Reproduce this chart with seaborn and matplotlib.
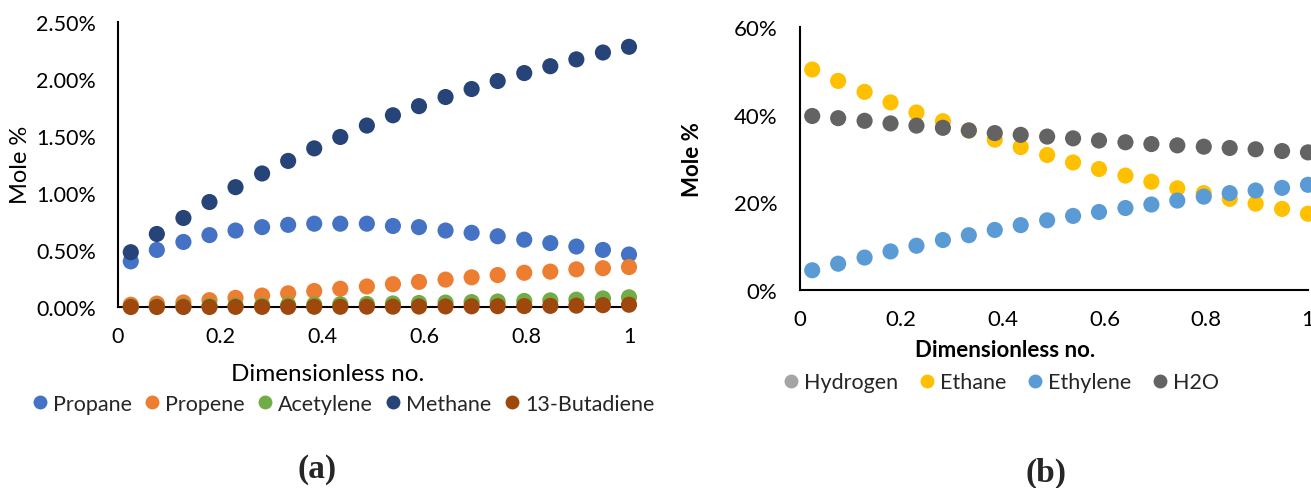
import numpy as np
import pandas as pd
import matplotlib
matplotlib.use("Agg")
import matplotlib.pyplot as plt
from matplotlib.lines import Line2D
from matplotlib.ticker import FuncFormatter
import seaborn as sns

# ---------------- data ----------------
x_vals = [0.025, 0.076, 0.128, 0.179, 0.230, 0.282, 0.333, 0.384, 0.435, 0.487,
          0.538, 0.589, 0.641, 0.692, 0.743, 0.795, 0.846, 0.897, 0.949, 1.0]

# (a) mole %
propane = [0.40, 0.50, 0.57, 0.63, 0.67, 0.70, 0.72, 0.73, 0.73, 0.73,
           0.71, 0.70, 0.67, 0.65, 0.62, 0.59, 0.56, 0.53, 0.50, 0.46]
propene = [0.02, 0.03, 0.04, 0.06, 0.08, 0.10, 0.12, 0.14, 0.16, 0.18,
           0.20, 0.22, 0.24, 0.26, 0.28, 0.30, 0.31, 0.33, 0.34, 0.35]
acetylene = [0.003, 0.005, 0.007, 0.010, 0.012, 0.015, 0.018, 0.021, 0.024, 0.027,
             0.031, 0.035, 0.039, 0.043, 0.048, 0.053, 0.058, 0.064, 0.075, 0.085]
methane = [0.48, 0.64, 0.78, 0.92, 1.05, 1.17, 1.28, 1.39, 1.49, 1.59,
           1.68, 1.76, 1.84, 1.91, 1.98, 2.05, 2.11, 2.17, 2.23, 2.28]
butadiene = [0.000, 0.000, 0.000, 0.000, 0.001, 0.001, 0.001, 0.002, 0.002, 0.003,
             0.003, 0.004, 0.005, 0.006, 0.007, 0.008, 0.010, 0.012, 0.016, 0.020]

# (b) mole %
hydrogen = []  # not visible within the plotted range
ethane = [50.3, 47.7, 45.2, 42.8, 40.5, 38.5, 36.4, 34.3, 32.6, 30.8,
          29.1, 27.6, 26.1, 24.7, 23.2, 22.1, 20.8, 19.7, 18.5, 17.4]
ethylene = [4.5, 6.0, 7.4, 8.8, 10.1, 11.4, 12.5, 13.7, 14.8, 15.9,
            16.9, 17.8, 18.7, 19.5, 20.4, 21.3, 22.1, 22.7, 23.3, 24.0]
h2o = [39.7, 39.2, 38.6, 38.0, 37.5, 37.0, 36.4, 35.8, 35.4, 35.0,
       34.6, 34.1, 33.7, 33.3, 33.0, 32.7, 32.4, 32.1, 31.7, 31.4]

names_a = ["Propane", "Propene", "Acetylene", "Methane", "13-Butadiene"]
series_a = [propane, propene, acetylene, methane, butadiene]
colors_a = ["#4472C4", "#ED7D31", "#70AD47", "#264478", "#9E480E"]

names_b = ["Hydrogen", "Ethane", "Ethylene", "H2O"]
series_b = [hydrogen, ethane, ethylene, h2o]
colors_b = ["#A5A5A5", "#FFC000", "#5B9BD5", "#636363"]

x_ticks = [0, 0.2, 0.4, 0.6, 0.8, 1]

# ---------------- style ----------------
sns.set_theme(style="white")
FONT = ["Lato", "DejaVu Sans"]
plt.rcParams["font.family"] = FONT

def long_df(names, series):
    rows = []
    for n, s in zip(names, series):
        for xv, yv in zip(x_vals[:len(s)], s):
            rows.append({"x": xv, "y": yv, "series": n})
    return pd.DataFrame(rows, columns=["x", "y", "series"])

fig = plt.figure(figsize=(13.11, 4.89), dpi=100)
ax1 = fig.add_axes([118/1311, 1-308/489, (629-118)/1311, (308-22.7)/489])
ax2 = fig.add_axes([799.5/1311, 1-291/489, (1308-799.5)/1311, (291-28)/489])

MS = 135

def style_axes(ax, ysize):
    for s in ["top", "right"]:
        ax.spines[s].set_visible(False)
    for s in ["left", "bottom"]:
        ax.spines[s].set_color("black")
        ax.spines[s].set_linewidth(1.5)
    ax.tick_params(direction="in", length=6, width=1.5, color="black",
                   labelsize=ysize, labelcolor="black")
    ax.tick_params(axis="y", pad=16)
    ax.tick_params(axis="x", pad=14)
    ax.grid(False)

# (a)
df_a = long_df(names_a, series_a)
sns.scatterplot(data=df_a, x="x", y="y", hue="series", hue_order=names_a,
                palette=colors_a, s=MS, linewidth=0, ax=ax1, legend=False,
                clip_on=False, zorder=3)
ax1.set_xlim(0, 1)
ax1.set_ylim(0, 2.5)
ax1.set_xticks(x_ticks)
ax1.set_xticklabels([("%g" % t) for t in x_ticks])
ax1.set_yticks([0, 0.5, 1.0, 1.5, 2.0, 2.5])
ax1.yaxis.set_major_formatter(FuncFormatter(lambda v, p: "%.2f%%" % v))
style_axes(ax1, 15.5)
ax1.set_xlabel("Dimensionless no.", fontsize=17.5, color="black")
ax1.xaxis.set_label_coords(0.41, -0.195)
ax1.set_ylabel("Mole %", fontsize=17, color="black")
ax1.yaxis.set_label_coords(-0.17, 0.5)

handles_a = [Line2D([], [], marker="o", linestyle="", markersize=10,
                    markerfacecolor=c, markeredgewidth=0) for c in colors_a]
ax1.legend(handles_a, names_a, loc="center", bbox_to_anchor=(0.442, -0.34),
           ncol=5, frameon=False, fontsize=15.5, handletextpad=0.3,
           columnspacing=0.65, handlelength=0.6, borderaxespad=0)

# (b)
df_b = long_df(names_b, series_b)
sns.scatterplot(data=df_b, x="x", y="y", hue="series", hue_order=names_b,
                palette=colors_b, s=MS, linewidth=0, ax=ax2, legend=False,
                clip_on=False, zorder=3)
ax2.set_xlim(0, 1)
ax2.set_ylim(0, 60)
ax2.set_xticks(x_ticks)
ax2.set_xticklabels([("%g" % t) for t in x_ticks])
ax2.set_yticks([0, 20, 40, 60])
ax2.yaxis.set_major_formatter(FuncFormatter(lambda v, p: "%d%%" % v))
style_axes(ax2, 16)
ax2.set_xlabel("Dimensionless no.", fontsize=16, fontweight="bold", color="black")
ax2.xaxis.set_label_coords(0.404, -0.185)
ax2.set_ylabel("Mole %", fontsize=16, fontweight="bold", color="black")
ax2.yaxis.set_label_coords(-0.19, 0.5)

handles_b = [Line2D([], [], marker="o", linestyle="", markersize=10,
                    markerfacecolor=c, markeredgewidth=0) for c in colors_b]
ax2.legend(handles_b, names_b, loc="center", bbox_to_anchor=(0.398, -0.35),
           ncol=4, frameon=False, fontsize=15.5, handletextpad=0.3,
           columnspacing=1.05, handlelength=0.6, borderaxespad=0)

fig.text(317/1311, 1-470/489, "(a)", ha="center", va="center",
         fontsize=24, fontweight="bold", family=["Liberation Serif"])
fig.text(1046/1311, 1-473/489, "(b)", ha="center", va="center",
         fontsize=24, fontweight="bold", family=["Liberation Serif"])

fig.savefig("out.png", dpi=100)
